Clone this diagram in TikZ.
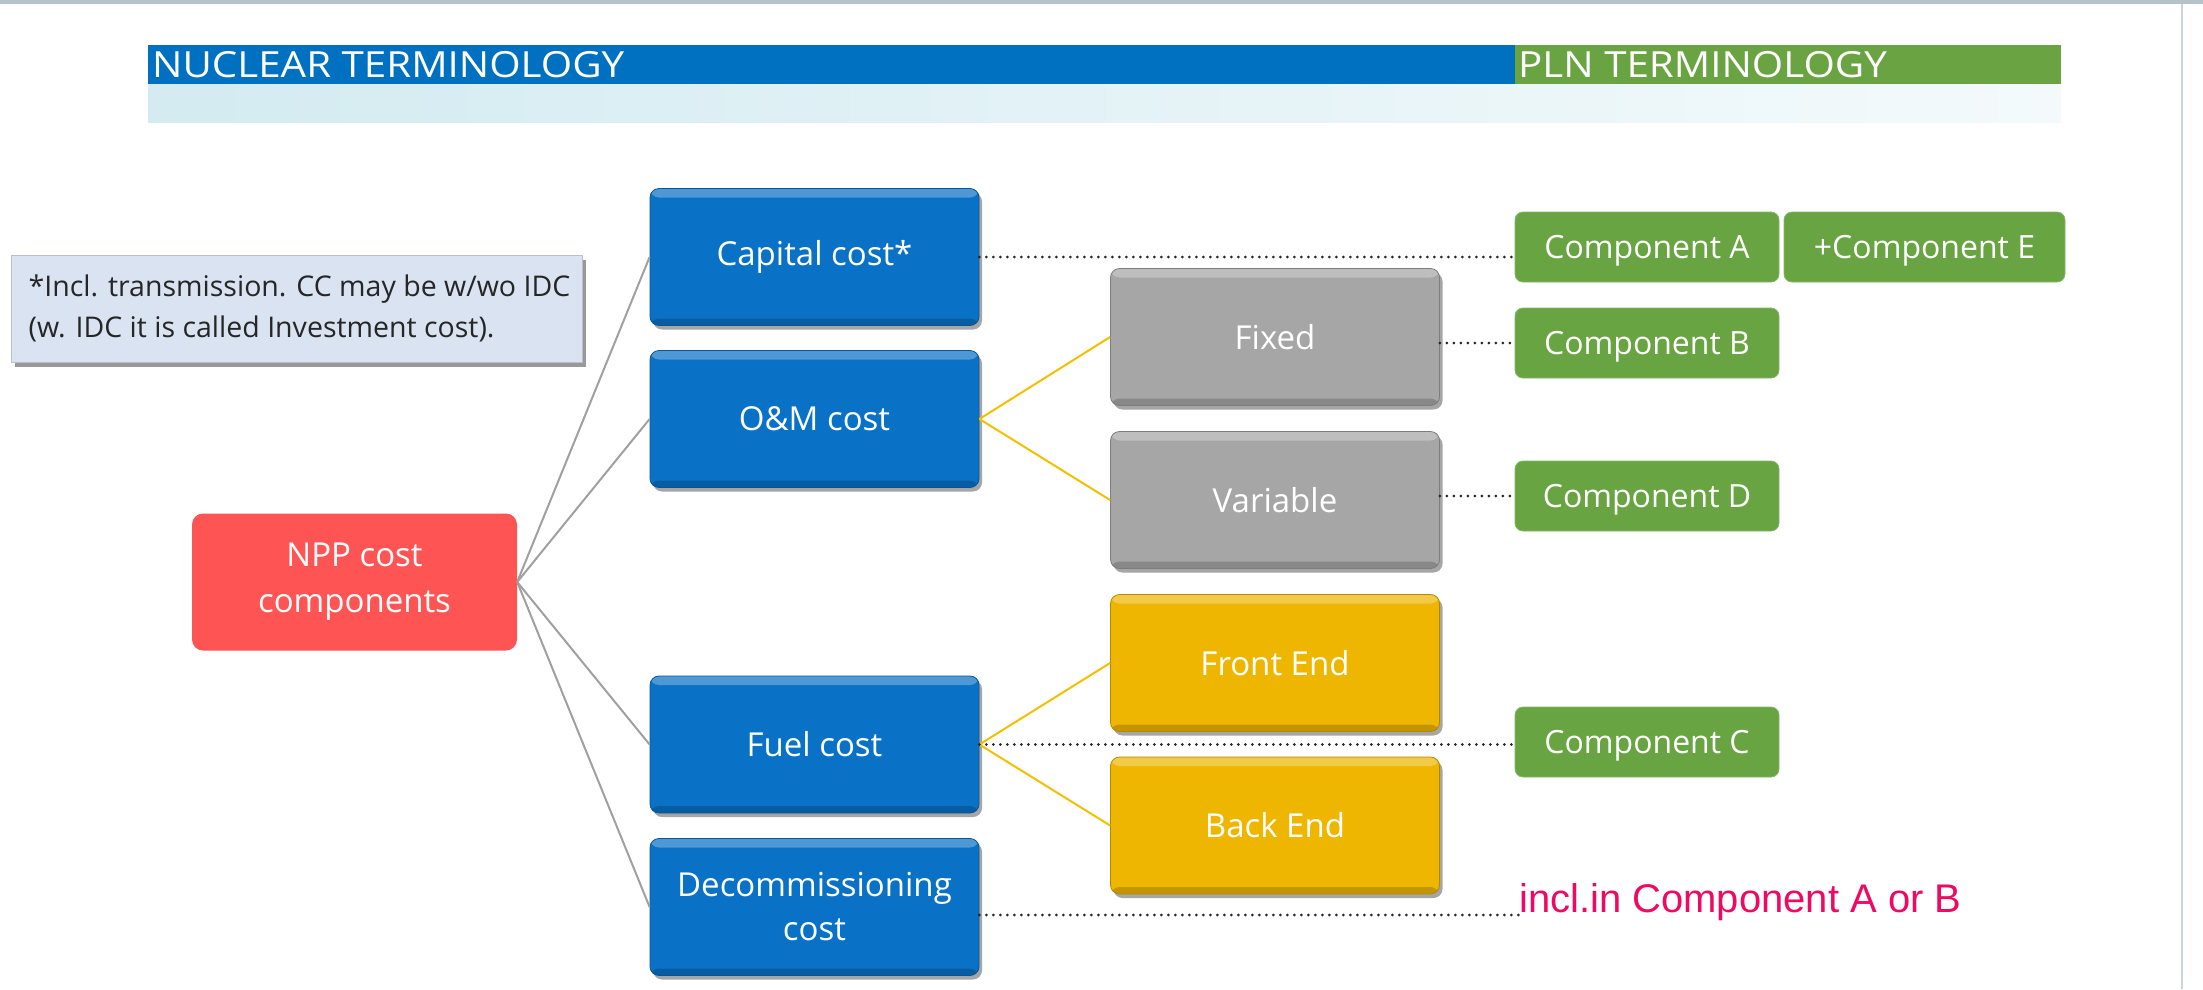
\documentclass[tikz,border=0pt]{standalone}
\usepackage{fontspec}
\setmainfont{Open Sans}
\newfontfamily\arialfont{Liberation Sans}
\newfontfamily\headfont[FakeStretch=1.12]{Open Sans}
\usetikzlibrary{shadows}

\definecolor{hdrblue}{HTML}{0070C0}
\definecolor{hdrgreen}{HTML}{6AA442}
\definecolor{bandcyan}{HTML}{D3EBF1}
\definecolor{boxblue}{HTML}{0A72C6}
\definecolor{boxgray}{HTML}{A6A6A6}
\definecolor{boxyellow}{HTML}{EFB600}
\definecolor{compgreen}{HTML}{68A442}
\definecolor{rootred}{HTML}{FF5454}
\definecolor{notefill}{HTML}{DAE3F1}
\definecolor{linkgray}{HTML}{A0A0A0}
\definecolor{linkyellow}{HTML}{F2C000}
\definecolor{pinktext}{HTML}{EE0A62}
\definecolor{framegray}{HTML}{B4C2CA}

\tikzset{
  bevelbox/.style={rounded corners=9pt, fill=#1, draw=#1!75!black, line width=0.8pt,
    text=white, align=center, inner sep=0pt,
    minimum width=329pt, minimum height=137pt,
    font=\fontsize{33}{44}\selectfont,
    drop shadow={shadow xshift=3pt, shadow yshift=-4pt, fill=black, opacity=0.35},
    path picture={
      \fill[white,opacity=0.28] (path picture bounding box.north west)
        rectangle ([yshift=-9pt]path picture bounding box.north east);
      \fill[black,opacity=0.18] ([yshift=7pt]path picture bounding box.south west)
        rectangle (path picture bounding box.south east);
    }},
  compbox/.style={rounded corners=8pt, fill=compgreen, draw=compgreen!80!white,
    line width=0.8pt, text=white, inner sep=0pt,
    minimum width=264pt, minimum height=70pt,
    text height=22pt, text depth=0pt,
    font=\fontsize{32}{36}\selectfont},
  graylink/.style={draw=linkgray, line width=2pt},
  yellowlink/.style={draw=linkyellow, line width=2pt},
  dotlink/.style={draw=black!85, line width=3pt, line cap=round, dash pattern=on 0pt off 7pt},
}

\begin{document}
\begin{tikzpicture}[x=1pt, y=-1pt]
\useasboundingbox (0,0) rectangle (2203,989);

% page frame
\fill[framegray] (0,0) rectangle (2203,4);
\draw[framegray!70, line width=2pt] (2182,4) -- (2182,989);

% heading bars
\fill[left color=bandcyan, right color=bandcyan!25] (148,84) rectangle (2061,122);
\fill[hdrblue] (148,45) rectangle (1515,84);
\fill[hdrgreen] (1515,45) rectangle (2061,84);
\node[anchor=west, text=white, inner sep=0pt, font=\headfont\fontsize{36}{40}\selectfont]
  (nuchead) at (152,65) {NUCLEAR TERMINOLOGY};
\node[anchor=west, text=white, inner sep=0pt, font=\headfont\fontsize{36}{40}\selectfont]
  (plnhead) at (1518,65) {PLN TERMINOLOGY};

% footnote box
\node[fill=notefill, draw=notefill!85!black, line width=0.6pt, minimum width=571pt,
  minimum height=107pt, inner sep=0pt, align=left, text=black!85,
  font=\fontsize{28.5}{41}\selectfont,
  drop shadow={shadow xshift=4pt, shadow yshift=-5pt, fill=black, opacity=0.4}]
  (note) at (296.5,308.5) {\hspace*{6pt}*Incl. transmission. CC may be w/wo IDC\\\hspace*{6pt}(w. IDC it is called Investment cost).};

% root
\node[rounded corners=11pt, fill=rootred, text=white, align=center, inner sep=0pt,
  minimum width=325pt, minimum height=137pt, font=\fontsize{33}{46}\selectfont]
  (npp) at (354.5,582) {NPP cost\\components};

% cost categories
\node[bevelbox=boxblue] (cap)  at (814.5,257)   {Capital cost*};
\node[bevelbox=boxblue] (om)   at (814.5,419)   {O\&M cost};
\node[bevelbox=boxblue] (fuel) at (814.5,744.5) {Fuel cost};
\node[bevelbox=boxblue] (dec)  at (814.5,907)   {Decommissioning\\cost};

% sub-categories
\node[bevelbox=boxgray]   (fixed) at (1275,337)   {Fixed};
\node[bevelbox=boxgray]   (var)   at (1275,500)   {Variable};
\node[bevelbox=boxyellow] (front) at (1275,663)   {Front End};
\node[bevelbox=boxyellow] (back)  at (1275,825.5) {Back End};

% PLN components
\node[compbox] (compA) at (1647,247)   {Component A};
\node[compbox, minimum width=281pt] (compE) at (1924.5,247) {+Component E};
\node[compbox] (compB) at (1647,343)   {Component B};
\node[compbox] (compD) at (1647,496)   {Component D};
\node[compbox] (compC) at (1647,742)   {Component C};

\node[anchor=south west, inner sep=0pt, text=pinktext, font=\arialfont\fontsize{40}{44}\selectfont]
  (incl) at (1519,921) {incl.in Component A or B};

% tree links
\foreach \t in {cap,om,fuel,dec} \draw[graylink] (npp.east) -- (\t.west);
\draw[yellowlink] (om.east) -- (fixed.west);
\draw[yellowlink] (om.east) -- (var.west);
\draw[yellowlink] (fuel.east) -- (front.west);
\draw[yellowlink] (fuel.east) -- (back.west);

% terminology mapping
\draw[dotlink] (cap.east) -- (cap.east -| compA.west);
\draw[dotlink] (compB.west -| fixed.east) -- (compB.west);
\draw[dotlink] (compD.west -| var.east) -- (compD.west);
\draw[dotlink] (fuel.east) -- (fuel.east -| compC.west);
\draw[dotlink] ([yshift=-8pt]dec.east) -- ([yshift=-8pt]dec.east -| incl.west);
\end{tikzpicture}
\end{document}
